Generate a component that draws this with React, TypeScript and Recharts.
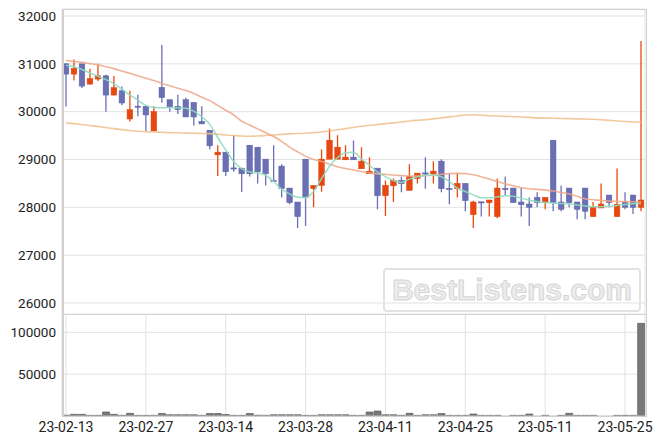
import { ComposedChart, Bar, Line, XAxis, YAxis, CartesianGrid } from "recharts";

const dates = [
  "23-02-13", "23-02-14", "23-02-15", "23-02-16", "23-02-17", "23-02-20", "23-02-21", "23-02-22", "23-02-23", "23-02-24",
  "23-02-27", "23-02-28", "23-03-02", "23-03-03", "23-03-06", "23-03-07", "23-03-08", "23-03-09", "23-03-10", "23-03-13",
  "23-03-14", "23-03-15", "23-03-16", "23-03-17", "23-03-20", "23-03-21", "23-03-22", "23-03-23", "23-03-24", "23-03-27",
  "23-03-28", "23-03-29", "23-03-30", "23-03-31", "23-04-03", "23-04-04", "23-04-05", "23-04-06", "23-04-07", "23-04-10",
  "23-04-11", "23-04-12", "23-04-13", "23-04-14", "23-04-17", "23-04-18", "23-04-19", "23-04-20", "23-04-21", "23-04-24",
  "23-04-25", "23-04-26", "23-04-27", "23-04-28", "23-05-02", "23-05-03", "23-05-04", "23-05-08", "23-05-09", "23-05-10",
  "23-05-11", "23-05-12", "23-05-15", "23-05-16", "23-05-17", "23-05-18", "23-05-19", "23-05-22", "23-05-23", "23-05-24",
  "23-05-25", "23-05-26", "23-05-30",
];

const openPrices = [
  31000, 30785, 31000, 30576, 30681, 30750, 30347, 30437, 29847, 30115,
  30111, 29597, 30507, 30250, 30111, 30250, 30194, 29799, 29611, 29097,
  29153, 28825, 28819, 29299, 29257, 29007, 28563, 28861, 28403, 28111,
  29007, 28389, 28458, 29007, 29007, 28993, 29049, 28806, 28701, 28819,
  28243, 28451, 28563, 28354, 28604, 28720, 28701, 28965, 28395, 28389,
  28500, 27847, 28115, 28097, 27806, 28395, 28403, 28111, 28069, 28208,
  28097, 29403, 28111, 28403, 28111, 28403, 27806, 27986, 28257, 27806,
  28111, 28257, 28000,
];
const highPrices = [
  31010, 31090, 31000, 30896, 31000, 30771, 30743, 30528, 30437, 30354,
  30111, 30111, 31396, 30250, 30354, 30292, 30194, 30111, 29611, 29299,
  29153, 29507, 28819, 29299, 29257, 29007, 29299, 28903, 28403, 28111,
  29007, 28458, 29208, 29646, 29507, 29299, 29396, 29257, 29049, 28819,
  28563, 28604, 28646, 28903, 28715, 29049, 28965, 29007, 28715, 28715,
  28500, 28139, 28115, 28153, 28604, 28646, 28403, 28403, 28208, 28313,
  28208, 29403, 28458, 28403, 28111, 28403, 28111, 28500, 28257, 28813,
  28313, 28257, 31479,
];
const lowPrices = [
  30110, 30653, 30493, 30570, 30639, 30000, 30340, 30132, 29792, 29903,
  29597, 29597, 30187, 30000, 29951, 29889, 29708, 29743, 29208, 28653,
  28653, 28743, 28319, 28646, 28500, 28458, 28556, 28208, 28063, 27569,
  27611, 28000, 28326, 29007, 29007, 28993, 28993, 28806, 28701, 27958,
  27819, 28111, 28313, 28354, 28500, 28389, 28500, 28313, 28063, 28208,
  27917, 27569, 27806, 27806, 27771, 28250, 28097, 27806, 27611, 28000,
  27958, 27917, 27917, 28000, 27750, 27750, 27806, 27986, 28000, 27806,
  27958, 27861, 27917,
];
const closePrices = [
  30785, 30903, 30535, 30688, 30750, 30347, 30500, 30181, 30042, 30105,
  29931, 30000, 30292, 30097, 30042, 29889, 29889, 29743, 29285, 29153,
  28743, 28812, 28701, 28701, 28743, 28701, 28556, 28389, 28097, 27806,
  28208, 28458, 29007, 29403, 29257, 29049, 28993, 28965, 28757, 28243,
  28458, 28563, 28493, 28646, 28715, 28710, 28757, 28389, 28385, 28500,
  28139, 28111, 28108, 28153, 28403, 28385, 28097, 28056, 28000, 28097,
  28208, 28097, 27958, 28097, 27958, 27917, 28000, 28069, 28097, 28063,
  28000, 28000, 28153,
];

const ma5 = [
  30970, 30940, 30880, 30810, 30740, 30670, 30580, 30470, 30350, 30240,
  30130, 30085, 30080, 30085, 30080, 30070, 30010, 29890, 29740, 29460,
  29200, 28960, 28810, 28740, 28720, 28670, 28540, 28380, 28280, 28210,
  28200, 28330, 28600, 28860, 29040, 29140, 29150, 29010, 28880, 28740,
  28640, 28560, 28520, 28590, 28640, 28665, 28670, 28640, 28540, 28400,
  28330, 28260, 28200, 28200, 28220, 28240, 28230, 28190, 28150, 28120,
  28100, 28090, 28080, 28075, 28050, 28030, 28010, 28010, 28020, 28040,
  28060, 28075, 28080,
];
const ma20 = [
  31070, 31050, 31030, 31005, 30980, 30940, 30900, 30850, 30800, 30750,
  30700, 30650, 30590, 30540, 30490, 30440, 30380, 30300, 30230, 30130,
  30030, 29930, 29800, 29720, 29640, 29560, 29480, 29380, 29260, 29160,
  29070, 29000, 28960, 28900, 28850, 28810, 28780, 28750, 28720, 28700,
  28690, 28675, 28665, 28655, 28655, 28660, 28675, 28690, 28705, 28710,
  28705, 28680, 28640, 28590, 28540, 28490, 28450, 28410, 28390, 28375,
  28360, 28340, 28310, 28280, 28230, 28180, 28160, 28145, 28130, 28125,
  28120, 28118, 28115,
];
const ma60 = [
  29765, 29750, 29730, 29710, 29690, 29665, 29645, 29625, 29605, 29590,
  29580, 29575, 29568, 29562, 29558, 29552, 29547, 29542, 29540, 29530,
  29512, 29500, 29490, 29486, 29490, 29500, 29512, 29525, 29535, 29542,
  29550, 29562, 29575, 29595, 29620, 29645, 29670, 29695, 29715, 29730,
  29750, 29765, 29785, 29805, 29820, 29833, 29850, 29870, 29890, 29910,
  29930, 29935, 29925, 29915, 29908, 29902, 29895, 29888, 29880, 29870,
  29865, 29862, 29858, 29854, 29850, 29847, 29840, 29830, 29818, 29806,
  29795, 29785, 29778,
];

const volumes = [
  1000, 2000, 2000, 800, 800, 4800, 2000, 800, 3200, 800,
  800, 800, 3000, 1500, 1500, 1500, 1500, 800, 3000, 3000,
  1800, 800, 800, 3000, 1000, 800, 1500, 1500, 1500, 1500,
  800, 800, 1500, 1500, 1500, 1500, 800, 800, 4800, 6000,
  1500, 1500, 800, 3200, 800, 1500, 1500, 3000, 800, 800,
  800, 2400, 800, 800, 800, 0, 800, 800, 2400, 0,
  800, 0, 800, 3200, 800, 800, 800, 0, 0, 800,
  800, 800, 110800,
];

const priceTicks = [26000, 27000, 28000, 29000, 30000, 31000, 32000];
const volumeTicks = [50000, 100000];
const PRICE_MIN = 25770;
const PRICE_MAX = 32146;
const VOLUME_MAX = 122000;

const data = dates.map((date, i) => ({
  date,
  open: openPrices[i],
  high: highPrices[i],
  low: lowPrices[i],
  close: closePrices[i],
  ma5: ma5[i],
  ma20: ma20[i],
  ma60: ma60[i],
  volume: volumes[i],
}));

const UP = "#e8480f";
const DOWN = "#6b70b4";

function Candle(props: any) {
  const { x, y, width, height, payload } = props;
  if (!payload || height == null) return null;
  const k = height / (payload.high - PRICE_MIN);
  const py = (v: number) => y + (payload.high - v) * k;
  const up = payload.close > payload.open;
  const color = up ? UP : DOWN;
  const cx = x + width / 2;
  const top = py(Math.max(payload.open, payload.close));
  const bottom = py(Math.min(payload.open, payload.close));
  const bodyW = 5.6;
  return (
    <g>
      <line x1={cx} x2={cx} y1={py(payload.high)} y2={py(payload.low)} stroke={color} strokeWidth={1.3} />
      <rect
        x={cx - bodyW / 2}
        y={top}
        width={bodyW}
        height={Math.max(bottom - top, 1.2)}
        fill={color}
        stroke={up ? "#d8400c" : "#5d62a8"}
        strokeWidth={0.5}
      />
    </g>
  );
}

const tickStyle = { fontSize: 13.5, fill: "#222", fontFamily: "Roboto, sans-serif" };

export default function App() {
  return (
    <div
      style={{
        position: "absolute",
        left: 0,
        top: 0,
        width: 663,
        height: 444,
        background: "#fff",
        fontFamily: "Roboto, sans-serif",
      }}
    >
      <div style={{ position: "absolute", left: 0, top: 0 }}>
        <ComposedChart
          width={663}
          height={315}
          data={data}
          margin={{ top: 9, right: 18, bottom: 1, left: 8 }}
          barCategoryGap={0}
        >
          <CartesianGrid stroke="#e2e2e2" strokeWidth={1} />
          <XAxis
            dataKey="date"
            interval={9}
            tick={false}
            tickLine={false}
            axisLine={false}
            height={0}
          />
          <YAxis
            domain={[PRICE_MIN, PRICE_MAX]}
            ticks={priceTicks}
            allowDataOverflow
            axisLine={false}
            tickLine={false}
            tickSize={4}
            tickMargin={2}
            width={54}
            tick={tickStyle}
          />
          <Line type="monotone" dataKey="ma60" stroke="#efbf8c" strokeOpacity={0.85} strokeWidth={1.6} dot={false} isAnimationActive={false} />
          <Line type="monotone" dataKey="ma20" stroke="#eea686" strokeOpacity={0.85} strokeWidth={1.6} dot={false} isAnimationActive={false} />
          <Line type="monotone" dataKey="ma5" stroke="#8fdbbf" strokeOpacity={0.9} strokeWidth={1.5} dot={false} isAnimationActive={false} />
          <Bar
            dataKey={(d: any) => [PRICE_MIN, d.high]}
            shape={(p: any) => <Candle {...p} />}
            isAnimationActive={false}
          />
        </ComposedChart>
      </div>

      <div style={{ position: "absolute", left: 0, top: 314 }}>
        <ComposedChart
          width={663}
          height={130}
          data={data}
          margin={{ top: 0, right: 18, bottom: 0, left: 8 }}
          barCategoryGap={0.6}
        >
          <CartesianGrid stroke="#e2e2e2" strokeWidth={1} />
          <XAxis
            dataKey="date"
            interval={9}
            tickLine={false}
            axisLine={{ stroke: "#cfcfcf" }}
            tickSize={4}
            tickMargin={2}
            height={28}
            tick={{ ...tickStyle, fontSize: 14 }}
          />
          <YAxis
            domain={[0, VOLUME_MAX]}
            ticks={volumeTicks}
            allowDataOverflow
            axisLine={false}
            tickLine={false}
            tickSize={4}
            tickMargin={2}
            width={54}
            tick={tickStyle}
          />
          <Bar dataKey="volume" fill="#787878" stroke="#505050" strokeWidth={0.6} isAnimationActive={false} />
        </ComposedChart>
      </div>

      <div
        style={{
          position: "absolute",
          left: 62,
          top: 9,
          width: 582,
          height: 406,
          border: "1px solid #d0d0d0",
          borderLeftWidth: 2,
          pointerEvents: "none",
        }}
      />
      <div
        style={{
          position: "absolute",
          left: 62,
          top: 314,
          width: 584,
          height: 1,
          background: "#d6d6d6",
        }}
      />
      <div
        style={{
          position: "absolute",
          left: 383,
          top: 268,
          width: 254,
          height: 40,
          border: "2px solid #e2e2e2",
          borderRadius: 4,
          display: "flex",
          alignItems: "center",
          justifyContent: "center",
          fontFamily: "'Liberation Sans', Arial, sans-serif",
          fontWeight: "bold",
          fontSize: 30,
          color: "#ececec",
          WebkitTextStroke: "1px #d6d6d6",
          pointerEvents: "none",
        }}
      >
        BestListens.com
      </div>
    </div>
  );
}
